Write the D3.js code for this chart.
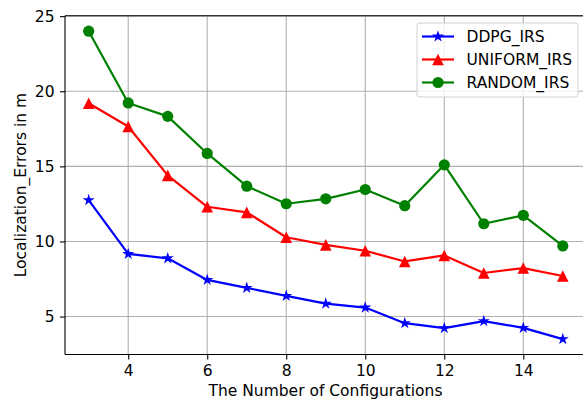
<!DOCTYPE html>
<html>
<head>
<meta charset="utf-8">
<script src="https://cdn.jsdelivr.net/npm/d3@7"></script>
<style>
  body { margin: 0; background: #fff; }
  svg { display: block; font-family: "DejaVu Sans", sans-serif; }
</style>
</head>
<body>
<svg id="chart" width="583" height="400"></svg>
<script>
// data
const configs = [3, 4, 5, 6, 7, 8, 9, 10, 11, 12, 13, 14, 15];
const ddpg    = [12.75, 9.17, 8.88, 7.44, 6.91, 6.38, 5.86, 5.6, 4.56, 4.23, 4.7, 4.25, 3.5];
const uniform = [19.2, 17.65, 14.4, 12.31, 11.94, 10.28, 9.77, 9.38, 8.67, 9.07, 7.9, 8.23, 7.7];
const random  = [24.0, 19.22, 18.33, 15.86, 13.68, 12.51, 12.84, 13.46, 12.38, 15.1, 11.18, 11.74, 9.7];
const xTicks = [4, 6, 8, 10, 12, 14];
const yTicks = [5, 10, 15, 20, 25];

const series = [
  { name: "DDPG_IRS", values: ddpg, color: "#0000ff", marker: "star" },
  { name: "UNIFORM_IRS", values: uniform, color: "#ff0000", marker: "triangle" },
  { name: "RANDOM_IRS", values: random, color: "#008000", marker: "circle" }
];

const fontSize = "15.5px";
const margin = { left: 65, top: 15.7, right: 586.5, bottom: 354.5 };

const x = d3.scaleLinear().domain([2.4, 15.6]).range([margin.left, margin.right]);
const y = d3.scaleLinear().domain([2.475, 25.03]).range([margin.bottom, margin.top]);

const svg = d3.select("#chart");

// grid
svg.append("g").selectAll("line")
  .data(xTicks)
  .join("line")
  .attr("x1", d => x(d)).attr("x2", d => x(d))
  .attr("y1", margin.top).attr("y2", margin.bottom)
  .attr("stroke", "#b0b0b0").attr("stroke-width", 1.1);

svg.append("g").selectAll("line")
  .data(yTicks)
  .join("line")
  .attr("x1", margin.left).attr("x2", margin.right)
  .attr("y1", d => y(d)).attr("y2", d => y(d))
  .attr("stroke", "#b0b0b0").attr("stroke-width", 1.1);

function markerPath(type, r) {
  if (type === "circle") {
    return `M${r},0A${r},${r},0,1,1,${-r},0A${r},${r},0,1,1,${r},0Z`;
  }
  if (type === "triangle") {
    return `M0,${-r}L${-r},${r}L${r},${r}Z`;
  }
  // five pointed star like matplotlib '*'
  let pts = [];
  for (let i = 0; i < 10; i++) {
    let rad = i % 2 === 0 ? r : r * 0.381966;
    let a = -Math.PI / 2 + i * Math.PI / 5;
    pts.push([rad * Math.cos(a), rad * Math.sin(a)]);
  }
  return "M" + pts.map(p => p[0].toFixed(2) + "," + p[1].toFixed(2)).join("L") + "Z";
}

const markerSize = { circle: 5.6, triangle: 5.8, star: 6.3 };

const plot = svg.append("g");
const line = d3.line().x((d, i) => x(configs[i])).y(d => y(d));

series.forEach(s => {
  plot.append("path")
    .attr("d", line(s.values))
    .attr("fill", "none")
    .attr("stroke", s.color)
    .attr("stroke-width", 2.2)
    .attr("stroke-linejoin", "round");
  plot.selectAll(null)
    .data(s.values)
    .join("path")
    .attr("transform", (d, i) => `translate(${x(configs[i])},${y(d)})`)
    .attr("d", markerPath(s.marker, markerSize[s.marker]))
    .attr("fill", s.color);
});

// spines
svg.append("line")
  .attr("x1", margin.left).attr("x2", margin.left)
  .attr("y1", margin.top).attr("y2", margin.bottom)
  .attr("stroke", "#000").attr("stroke-width", 1.1);
svg.append("line")
  .attr("x1", margin.left).attr("x2", margin.right)
  .attr("y1", margin.bottom).attr("y2", margin.bottom)
  .attr("stroke", "#000").attr("stroke-width", 1.1);
svg.append("line")
  .attr("x1", margin.left).attr("x2", margin.right)
  .attr("y1", margin.top).attr("y2", margin.top)
  .attr("stroke", "#000").attr("stroke-width", 1.1);

// axes with ticks
const xAxis = d3.axisBottom(x).tickValues(xTicks).tickSize(5).tickPadding(5.5).tickFormat(d3.format("d"));
const yAxis = d3.axisLeft(y).tickValues(yTicks).tickSize(5).tickPadding(5.5).tickFormat(d3.format("d"));

const gx = svg.append("g").attr("transform", `translate(0,${margin.bottom})`).call(xAxis);
const gy = svg.append("g").attr("transform", `translate(${margin.left},0)`).call(yAxis);
[gx, gy].forEach(g => {
  g.select(".domain").remove();
  g.selectAll(".tick line").attr("stroke", "#000").attr("stroke-width", 1.1);
  g.selectAll(".tick text")
    .attr("fill", "#000")
    .style("font-family", "DejaVu Sans")
    .style("font-size", fontSize);
});

// axis labels
svg.append("text")
  .attr("x", (margin.left + 582) / 2 + 2)
  .attr("y", 396)
  .attr("text-anchor", "middle")
  .style("font-size", fontSize)
  .text("The Number of Configurations");

svg.append("text")
  .attr("transform", `translate(25.5,${(margin.top + margin.bottom) / 2}) rotate(-90)`)
  .attr("text-anchor", "middle")
  .style("font-size", fontSize)
  .text("Localization_Errors in m");

// legend
const legend = svg.append("g").attr("transform", "translate(417,23)");
legend.append("rect")
  .attr("width", 161).attr("height", 74)
  .attr("rx", 3)
  .attr("fill", "#fff").attr("fill-opacity", 0.8)
  .attr("stroke", "#d0d0d0");

series.forEach((s, i) => {
  const row = legend.append("g").attr("transform", `translate(0,${13.5 + i * 23})`);
  row.append("line")
    .attr("x1", 5).attr("x2", 37)
    .attr("stroke", s.color).attr("stroke-width", 2.2);
  row.append("path")
    .attr("transform", "translate(21,0)")
    .attr("d", markerPath(s.marker, markerSize[s.marker]))
    .attr("fill", s.color);
  row.append("text")
    .attr("x", 49.5).attr("dy", "0.36em")
    .style("font-size", fontSize)
    .text(s.name);
});
</script>
</body>
</html>
